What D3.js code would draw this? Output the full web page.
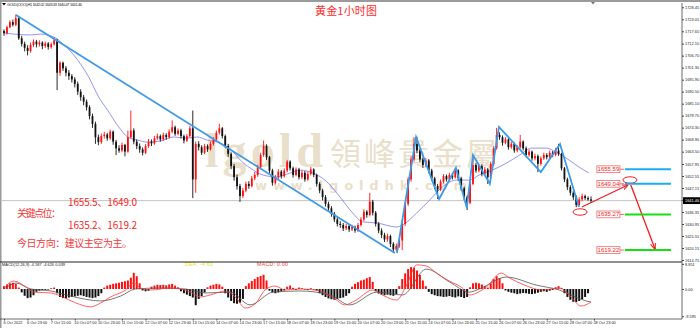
<!DOCTYPE html>
<html>
<head>
<meta charset="utf-8">
<script src="https://cdn.jsdelivr.net/npm/d3@7"></script>
<style>
  body { margin: 0; background: #fff; }
  svg { display: block; }
  .tiny text { font-family: 'Liberation Sans', Arial, sans-serif; font-size: 3.9px; fill: #222; }
</style>
</head>
<body>
<svg id="chart" width="700" height="328"></svg>
<script>
// ---- data ----
const firstOpen = 1717.8;
// hourly bars as [high, low, close]; open = previous close
const bars = [
  [1718.5,1715.6,1716.8],[1720.2,1716.2,1719.5],[1722.6,1719.0,1721.8],[1722.9,1719.8,1720.6],[1725.2,1720.0,1723.5],
  [1724.6,1713.8,1714.5],[1715.6,1710.8,1712.0],[1713.0,1708.6,1710.2],[1711.4,1706.8,1708.8],[1712.6,1708.0,1711.5],
  [1714.0,1710.6,1713.0],[1713.8,1710.4,1711.8],[1713.6,1710.8,1712.6],[1713.2,1709.6,1711.0],[1713.0,1710.2,1712.2],
  [1712.8,1709.4,1710.6],[1712.6,1709.8,1711.8],[1715.0,1711.2,1713.6],[1714.2,1691.2,1699.0],[1704.2,1697.6,1703.5],
  [1704.0,1699.8,1701.0],[1702.0,1697.4,1699.0],[1700.2,1695.8,1697.5],[1698.4,1694.6,1696.0],[1697.0,1692.4,1694.0],
  [1695.0,1689.0,1690.5],[1691.6,1686.4,1688.0],[1689.0,1684.4,1686.0],[1687.0,1682.0,1683.5],[1684.4,1678.0,1679.5],
  [1680.6,1674.2,1676.0],[1677.0,1667.0,1670.0],[1671.2,1666.4,1667.8],[1671.6,1667.0,1670.5],[1672.4,1669.4,1671.2],
  [1672.0,1668.4,1669.5],[1673.4,1668.8,1672.5],[1673.0,1666.6,1668.0],[1668.8,1662.0,1665.0],[1666.4,1663.0,1664.0],
  [1667.6,1663.2,1666.5],[1667.0,1661.4,1663.5],[1673.0,1663.0,1670.0],[1682.0,1669.4,1673.0],[1674.0,1666.8,1668.0],
  [1669.0,1664.6,1666.0],[1667.2,1663.0,1664.5],[1665.4,1661.8,1663.0],[1667.0,1662.4,1666.0],[1669.2,1665.2,1668.0],
  [1669.0,1666.0,1667.2],[1670.6,1666.6,1669.5],[1671.6,1668.8,1670.5],[1671.2,1668.0,1669.0],[1672.0,1668.4,1671.0],
  [1671.8,1668.8,1670.0],[1673.6,1669.4,1672.5],[1677.6,1671.8,1674.5],[1675.2,1670.6,1671.5],[1674.0,1670.8,1673.0],
  [1673.8,1669.4,1670.5],[1671.2,1667.2,1668.5],[1671.4,1667.8,1670.5],[1675.0,1669.8,1674.0],[1682.0,1642.6,1651.0],
  [1668.0,1645.0,1667.0],[1668.2,1664.0,1665.5],[1666.4,1662.0,1663.0],[1667.0,1662.4,1666.0],[1666.8,1663.4,1664.5],
  [1668.0,1664.0,1667.0],[1670.0,1666.2,1669.0],[1673.0,1668.2,1672.0],[1676.0,1671.2,1674.0],[1674.6,1669.4,1670.5],
  [1671.2,1665.0,1666.0],[1667.0,1661.2,1662.5],[1663.2,1655.6,1657.0],[1658.0,1650.4,1652.0],[1653.2,1646.4,1648.0],
  [1649.0,1640.9,1643.5],[1647.2,1642.6,1646.0],[1650.0,1645.2,1649.0],[1650.2,1646.8,1648.0],[1652.6,1647.4,1651.5],
  [1654.4,1650.6,1653.0],[1657.6,1652.2,1656.5],[1663.0,1655.8,1662.0],[1668.5,1661.2,1666.0],[1666.8,1659.8,1661.0],
  [1661.6,1653.8,1655.0],[1655.8,1648.2,1649.5],[1653.0,1648.8,1652.0],[1655.6,1651.2,1654.5],[1655.2,1651.4,1652.5],
  [1656.0,1651.8,1655.0],[1659.8,1654.2,1659.0],[1659.6,1655.0,1656.0],[1656.8,1651.8,1653.0],[1656.4,1652.4,1655.5],
  [1656.2,1651.0,1652.0],[1655.0,1651.2,1654.0],[1654.8,1650.0,1651.0],[1654.6,1650.4,1653.5],[1656.6,1652.8,1655.5],
  [1656.0,1652.0,1653.0],[1653.6,1647.8,1649.0],[1649.8,1644.8,1646.0],[1646.8,1641.6,1643.0],[1644.0,1638.8,1640.0],
  [1641.0,1636.6,1638.0],[1639.0,1634.2,1635.5],[1636.4,1631.8,1633.0],[1634.0,1629.8,1631.0],[1632.2,1629.2,1630.5],
  [1631.4,1627.8,1629.0],[1631.0,1628.2,1630.0],[1630.8,1627.4,1628.5],[1630.6,1627.8,1629.5],[1630.2,1627.0,1628.0],
  [1631.4,1627.4,1630.5],[1634.0,1629.8,1633.0],[1637.6,1632.2,1636.5],[1637.2,1633.8,1635.0],[1645.0,1634.4,1641.0],
  [1641.8,1634.8,1636.0],[1636.8,1629.8,1631.0],[1631.8,1626.8,1628.0],[1629.0,1624.6,1626.0],[1627.0,1622.8,1624.0],
  [1626.6,1623.0,1625.5],[1626.2,1620.6,1622.0],[1622.8,1617.9,1619.5],[1622.2,1618.6,1621.0],[1624.6,1620.2,1623.5],
  [1632.7,1619.2,1631.0],[1641.0,1630.0,1640.0],[1652.0,1639.0,1651.0],[1661.4,1650.0,1660.0],[1670.0,1659.0,1667.0],
  [1670.2,1662.8,1664.0],[1664.8,1658.8,1660.0],[1660.8,1656.2,1657.5],[1660.6,1656.6,1659.5],[1660.2,1653.8,1655.0],
  [1655.8,1650.2,1651.5],[1652.2,1646.6,1648.0],[1649.0,1642.2,1646.5],[1651.0,1645.8,1650.0],[1653.4,1649.2,1652.5],
  [1653.2,1650.0,1651.0],[1654.0,1650.2,1653.0],[1653.8,1651.0,1652.0],[1656.2,1651.4,1655.0],[1655.6,1650.4,1651.5],
  [1652.2,1645.8,1647.0],[1647.8,1641.6,1643.0],[1643.8,1637.2,1640.5],[1650.0,1639.8,1649.0],[1662.0,1648.4,1657.5],
  [1658.4,1654.0,1655.0],[1658.0,1654.2,1657.0],[1657.8,1652.4,1653.5],[1656.6,1652.8,1655.5],[1656.2,1649.0,1652.0],
  [1659.0,1651.4,1658.0],[1666.0,1657.2,1665.0],[1674.2,1664.4,1671.0],[1672.2,1668.8,1670.0],[1670.8,1666.2,1667.5],
  [1670.0,1666.8,1669.0],[1669.6,1664.4,1665.5],[1668.0,1664.8,1667.0],[1667.6,1663.0,1664.0],[1666.4,1663.2,1665.5],
  [1671.0,1664.8,1668.0],[1668.6,1664.0,1665.0],[1665.8,1661.0,1662.0],[1664.4,1661.2,1663.5],[1664.0,1659.4,1660.5],
  [1662.6,1659.6,1661.5],[1662.2,1654.3,1658.0],[1661.4,1657.2,1660.5],[1663.0,1659.8,1662.0],[1662.8,1660.0,1661.0],
  [1664.0,1660.4,1663.0],[1663.8,1661.0,1662.0],[1665.2,1661.4,1664.0],[1667.0,1661.6,1662.5],[1663.0,1655.0,1656.0],
  [1656.6,1649.8,1651.0],[1651.8,1646.2,1647.5],[1648.4,1643.8,1645.0],[1645.8,1641.8,1643.0],[1643.8,1638.5,1639.5],
  [1643.0,1639.0,1642.0],[1644.6,1641.2,1643.5],[1644.2,1641.8,1642.6],[1643.4,1641.4,1642.02],[1643.33,1640.47,1641.46]
];

// moving average as [bar, price]
const maLine = [
  [0,1716.9],[9,1716.0],[12.5,1716.4],[17.6,1714.6],[19.3,1712.8],[25,1704.7],[28.7,1697.1],[32.1,1688.1],
  [35.1,1682.2],[38.9,1674.6],[41.9,1670.1],[45.3,1668.7],[48.6,1667.8],[53,1668.3],[57.4,1670.1],[62.2,1669.6],
  [65.5,1670.1],[68.9,1668.7],[73.3,1667.4],[77.7,1663.3],[80.1,1659.7],[83.4,1656.2],[87.8,1653.0],[92.6,1652.1],
  [97,1653.9],[100.3,1655.2],[104.7,1653.9],[109.5,1649.9],[113.9,1643.1],[118.2,1635.9],[121.6,1631.9],[126.4,1631.4],
  [133.1,1629.6],[135.1,1630.5],[139.9,1635.9],[144.3,1641.7],[148.6,1647.6],[153.4,1650.7],[157.8,1650.7],[161.1,1653.0],
  [165.5,1655.2],[170.3,1658.3],[174.7,1661.9],[179,1665.1],[183.8,1665.1],[187.2,1663.3],[191.6,1659.7],[194.9,1656.6],
  [198.3,1653.9]
];

// MACD histogram per bar
const macdHist = [
  1.0,1.6,2.0,2.2,1.8,0.5,-1.2,-2.4,-3.2,-3.0,
  -2.2,-1.0,-0.6,-0.4,-0.3,-0.2,0.3,0.5,-1.5,-2.8,
  -3.2,-3.3,-3.0,-2.8,-2.6,-2.4,-2.2,-2.5,-2.8,-3.0,
  -3.2,-3.0,-2.5,-1.5,0.5,1.2,1.5,1.8,2.0,2.2,
  2.5,2.7,3.0,4.0,5.7,4.5,2.0,-0.5,-0.8,-0.6,
  0.8,1.2,1.5,1.4,1.5,1.3,1.6,1.8,1.2,0.6,
  -0.8,-1.5,-2.0,-2.5,-3.0,-5.7,-3.5,-2.5,-1.2,0.6,
  1.2,1.5,1.8,1.6,0.8,-1.5,-3.0,-4.2,-5.0,-5.2,
  -4.8,-3.5,1.0,2.0,2.8,3.5,4.2,4.6,5.0,3.0,
  -0.6,-1.2,-1.5,-1.2,-0.8,-0.5,0.8,1.2,0.4,-0.3,
  0.5,0.3,-0.2,-0.4,0.3,-0.2,-0.5,-1.5,-2.2,-2.8,
  -3.3,-3.6,-3.8,-3.5,-3.2,-3.0,-2.4,-1.5,0.8,1.8,
  2.4,3.0,3.3,3.8,4.2,2.5,-0.8,-1.6,-2.0,-2.2,
  -2.0,-2.2,-2.4,-1.8,1.0,3.5,5.5,7.0,7.7,7.5,
  6.5,5.0,3.0,1.0,-1.0,-1.8,-2.2,-2.5,-2.6,-2.8,
  -2.7,-2.5,-2.8,-3.0,-2.6,-2.8,-3.2,-2.8,0.6,2.0,
  2.2,2.0,1.6,1.0,0.5,2.0,3.5,4.5,3.8,2.0,
  -0.5,-1.0,-1.3,-1.5,-1.8,-1.6,-1.4,-1.5,-1.7,-1.8,
  -1.6,-1.3,-1.0,-0.8,-1.0,-0.6,-0.3,0.6,1.0,0.4,
  -1.5,-2.8,-3.8,-4.5,-4.6,-4.2,-3.6,-2.8,-1.5,0.04
];
// MACD lines as [bar, value]
const difLine = [
  [0,0.35],[3.4,2.8],[7.4,0.7],[10.1,-1.1],[15.9,-1.4],[19.3,-2.5],[24.3,-4.9],[29.4,-6.3],[32.8,-4.9],
  [36.1,-2.8],[41.2,-0.35],[43.9,2.1],[46.3,0.35],[49.7,-0.35],[56.4,0.35],[59.8,0],[63.2,-1.1],[66.6,-2.8],
  [69.9,-2.1],[75,-0.7],[78.4,-2.8],[81.8,-6.7],[85.1,-5.3],[88.5,-0.35],[91.9,1.05],[95.3,-0.35],[100.3,0],
  [107.1,-0.7],[112.2,-3.5],[115.5,-5.6],[118.9,-4.2],[125,-0.35],[129,-2.5],[133.1,-3.9],[136.5,1.4],
  [139.9,8.5],[143.2,8.1],[146.6,5.6],[151,2.8],[155.4,0.35],[157.8,-2.1],[163.5,0.7],[168.6,5.6],[171.3,3.9],
  [176.4,1.4],[182.4,-0.35],[188.2,0.35],[192.2,-2.8],[195.6,-6.0],[199,-4.6]
];
const deaLine = [
  [0,0],[4.1,2.1],[9.1,0],[15.9,-0.7],[22.6,-2.5],[32.8,-4.2],[39.5,-2.5],[44.6,0],[53,0.35],[61.5,0],
  [68.2,-1.4],[76.7,-1.1],[83.4,-5.6],[91.2,-1.1],[100.3,-0.7],[110.5,-2.1],[117.2,-5.6],[126.4,-1.1],
  [135.1,-2.1],[143.2,7.0],[151,2.5],[157.8,-1.1],[161.1,0],[170.3,4.2],[180.4,1.4],[188.2,-0.35],
  [197.3,-4.2],[199,-4.6]
];

// drawn analysis: trendline, zigzag, arrows, levels
const trendLine = [[4.07,1725.0],[132.5,1617.9]];
const zigzag = [
  [133.2,1617.9],[139.7,1670.1],[147.5,1642.2],[153.2,1656.2],[156.9,1638.2],[159,1662.0],
  [164.7,1649.0],[167.8,1674.6],[182,1654.3],[188.5,1666.9],[194.9,1638.6]
];
const arrows = [
  [[195.9,1638.6],[211.5,1648.5]],
  [[212.5,1648.5],[220.7,1619.7]]
];
const ellipses = [[195.3,1636.35],[212.2,1650.75]];
const levels = [
  { value: 1655.59, color: '#19aef0' },
  { value: 1649.04, color: '#19aef0' },
  { value: 1635.27, color: '#14e014' },
  { value: 1619.22, color: '#14e014' },
];

const priceTicks = [1728.45,1723.05,1717.65,1712.10,1706.70,1701.30,1695.90,1690.50,1685.10,1679.70,1674.30,
  1668.90,1663.50,1657.95,1652.55,1647.15,1641.75,1636.35,1630.95,1625.55,1620.15,1614.75];
const macdTicks = [8.851, 0, -9.595];
const timeLabels = ['6 Oct 2022','6 Oct 23:00','7 Oct 15:00','10 Oct 07:00','10 Oct 23:00','11 Oct 15:00',
  '12 Oct 07:00','12 Oct 23:00','13 Oct 15:00','14 Oct 07:00','14 Oct 23:00','17 Oct 15:00','18 Oct 07:00',
  '18 Oct 23:00','19 Oct 15:00','20 Oct 07:00','20 Oct 23:00','21 Oct 15:00','24 Oct 07:00','24 Oct 23:00',
  '25 Oct 15:00','26 Oct 07:00','26 Oct 23:00','27 Oct 15:00','28 Oct 07:00','28 Oct 23:00'];
const lastPrice = 1641.46;

// ---- layout ----
const plot = { left: 2, right: 682, top: 3, priceBottom: 262, macdBottom: 319 };
const svg = d3.select('#chart');

const x = d3.scaleLinear().domain([0, 199]).range([4, 591]);
const y = d3.scaleLinear().domain([1614.75, 1728.45]).range([260, 7.3]);
const ym = d3.scaleLinear().domain([-10.56, 9.5]).range([319, 262]);

const candles = bars.map((b, i) => ({
  i, o: i ? bars[i - 1][2] : firstOpen, h: b[0], l: b[1], c: b[2],
}));

// frame
svg.append('rect').attr('width', 700).attr('height', 328).attr('fill', '#fff');
svg.append('rect').attr('x', 0).attr('y', 0).attr('width', 700).attr('height', 2).attr('fill', '#9a9a9a');
svg.append('rect').attr('x', 0).attr('y', 0).attr('width', 1.5).attr('height', 328).attr('fill', '#9a9a9a');
svg.append('path').attr('d', 'M591,2 L595,2 L593,4.5 Z').attr('fill', '#777');

// watermark
const wm = svg.append('g').attr('fill', '#e9e0cb');
wm.append('text').attr('x', 205).attr('y', 167).attr('font-family', "'Liberation Serif', serif")
  .attr('font-weight', 'bold').attr('font-size', 48).attr('textLength', 118).text('lgold');
wm.append('text').attr('x', 330).attr('y', 165).attr('font-family', "'Noto Sans CJK TC', sans-serif")
  .attr('font-size', 31).attr('textLength', 167).text('領峰貴金屬');
wm.append('text').attr('x', 255).attr('y', 190).attr('font-family', "'DejaVu Sans', sans-serif")
  .attr('font-weight', 'bold').attr('font-size', 13).attr('textLength', 212).text('www.lgoldhk.com');

// current price line
svg.append('line').attr('x1', plot.left).attr('x2', plot.right)
  .attr('y1', y(lastPrice)).attr('y2', y(lastPrice)).attr('stroke', '#c4c4c4').attr('stroke-width', 1);

// moving average
svg.append('path').datum(maLine)
  .attr('d', d3.line().x(d => x(d[0])).y(d => y(d[1])).curve(d3.curveMonotoneX))
  .attr('fill', 'none').attr('stroke', '#7b78f0').attr('stroke-width', 0.8);

// candles
const cg = svg.append('g').attr('class', 'candles');
cg.selectAll('g').data(candles).join('g')
  .attr('fill', d => (d.c >= d.o ? '#ff1010' : '#111'))
  .attr('stroke', d => (d.c >= d.o ? '#ff1010' : '#111'))
  .call(g => g.append('line')
    .attr('x1', d => x(d.i)).attr('x2', d => x(d.i))
    .attr('y1', d => y(d.h)).attr('y2', d => y(d.l)).attr('stroke-width', 0.9))
  .call(g => g.append('rect')
    .attr('x', d => x(d.i) - 0.9).attr('width', 1.8)
    .attr('y', d => y(Math.max(d.o, d.c)))
    .attr('height', d => Math.max(0.8, Math.abs(y(d.o) - y(d.c))))
    .attr('stroke', 'none'));

// blue trendline + zigzag
const pl = d3.line().x(d => x(d[0])).y(d => y(d[1]));
svg.append('path').datum(trendLine).attr('d', pl)
  .attr('fill', 'none').attr('stroke', '#3d9ae6').attr('stroke-width', 1.8);
svg.append('path').datum(zigzag).attr('d', pl)
  .attr('fill', 'none').attr('stroke', '#3d9ae6').attr('stroke-width', 1.8).attr('stroke-linejoin', 'miter');

// red arrows & ellipses
svg.append('defs').append('marker').attr('id', 'arr')
  .attr('viewBox', '0 0 10 10').attr('refX', 9).attr('refY', 5)
  .attr('markerWidth', 5).attr('markerHeight', 5).attr('orient', 'auto')
  .append('path').attr('d', 'M0,1 L10,5 L0,9').attr('fill', 'none').attr('stroke', '#f21d1d').attr('stroke-width', 1.6);
svg.append('g').selectAll('path').data(arrows).join('path')
  .attr('d', pl).attr('fill', 'none').attr('stroke', '#f21d1d').attr('stroke-width', 1.3)
  .attr('marker-end', 'url(#arr)');
svg.append('g').selectAll('ellipse').data(ellipses).join('ellipse')
  .attr('cx', d => x(d[0])).attr('cy', d => y(d[1])).attr('rx', 7).attr('ry', 3.2)
  .attr('fill', 'none').attr('stroke', '#f21d1d').attr('stroke-width', 1);

// level lines with price boxes
const lv = svg.append('g').selectAll('g').data(levels).join('g');
lv.append('line').attr('x1', x(210.5)).attr('x2', x(226.1))
  .attr('y1', d => y(d.value)).attr('y2', d => y(d.value))
  .attr('stroke', d => d.color).attr('stroke-width', 2);
lv.append('line').attr('x1', x(208.8)).attr('x2', x(210.2))
  .attr('y1', d => y(d.value)).attr('y2', d => y(d.value))
  .attr('stroke', '#f04040').attr('stroke-width', 0.8);
lv.append('rect').attr('x', x(201)).attr('width', x(208.8) - x(201))
  .attr('y', d => y(d.value) - 3.4).attr('height', 6.8)
  .attr('fill', '#fff').attr('stroke', '#f36a6a').attr('stroke-width', 0.8);
lv.append('text').attr('x', (x(201) + x(208.8)) / 2).attr('y', d => y(d.value) + 2.1)
  .attr('text-anchor', 'middle').attr('font-family', "'Liberation Sans', sans-serif")
  .attr('font-size', 6).attr('fill', '#f01c1c').text(d => d.value.toFixed(2));

// title & notes
svg.append('text').attr('x', 315).attr('y', 15).attr('textLength', 62)
  .attr('font-family', "'Noto Sans CJK SC', sans-serif").attr('font-size', 11)
  .attr('fill', '#ff2a2a').text('黄金1小时图');
const notes = svg.append('g').attr('font-family', "'Noto Sans CJK SC', sans-serif")
  .attr('font-size', 10).attr('fill', '#f51f1f');
notes.append('text').attr('x', 68).attr('y', 206).attr('textLength', 69).text('1655.5、1649.0');
notes.append('text').attr('x', 17).attr('y', 217).attr('textLength', 44).attr('fill', '#f23a3a').text('关键点位：');
notes.append('text').attr('x', 68).attr('y', 229).attr('textLength', 69).text('1635.2、1619.2');
notes.append('text').attr('x', 17).attr('y', 247).attr('textLength', 115).attr('fill', '#f23a3a').text('今日方向：建议主空为主。');

// header line
svg.append('path').attr('d', 'M2,3 L6,3 L4,5.5 Z').attr('fill', '#000');
svg.append('g').attr('class', 'tiny').append('text').attr('x', 7).attr('y', 6)
  .attr('textLength', 75).text('GOLD(OOO),H1 1642.02 1643.33 1640.47 1641.46');

// ---- MACD panel ----
svg.append('g').selectAll('rect').data(macdHist).join('rect')
  .attr('x', (d, i) => x(i) - 1).attr('width', 2)
  .attr('y', d => ym(Math.max(0, d)))
  .attr('height', d => Math.abs(ym(d) - ym(0)))
  .attr('fill', d => (d >= 0 ? '#ff1010' : '#111'));
const ml = d3.line().x(d => x(d[0])).y(d => ym(d[1])).curve(d3.curveMonotoneX);
svg.append('path').datum(deaLine).attr('d', ml)
  .attr('fill', 'none').attr('stroke', '#555').attr('stroke-width', 0.8);
svg.append('path').datum(difLine).attr('d', ml)
  .attr('fill', 'none').attr('stroke', '#ff3a3a').attr('stroke-width', 0.8);

svg.append('g').attr('class', 'tiny').append('text').attr('x', 2).attr('y', 265.5)
  .attr('textLength', 63).text('MACD(12,26,9) -4.587 -4.626 0.039');
svg.append('text').attr('x', 185).attr('y', 266).attr('font-family', "'Liberation Sans', sans-serif")
  .attr('font-size', 5.2).attr('fill', '#e6e600').attr('textLength', 28).text('DEA:      -4.63');
svg.append('text').attr('x', 257).attr('y', 266).attr('font-family', "'Liberation Sans', sans-serif")
  .attr('font-size', 5.2).attr('fill', '#ff3a3a').attr('textLength', 31).text('MACD:      0.00');

// separators
svg.append('line').attr('x1', 0).attr('x2', plot.right).attr('y1', plot.priceBottom).attr('y2', plot.priceBottom)
  .attr('stroke', '#222').attr('stroke-width', 1);
svg.append('line').attr('x1', 0).attr('x2', plot.right).attr('y1', plot.macdBottom).attr('y2', plot.macdBottom)
  .attr('stroke', '#444').attr('stroke-width', 0.8);
svg.append('line').attr('x1', plot.right).attr('x2', plot.right).attr('y1', plot.top).attr('y2', plot.macdBottom)
  .attr('stroke', '#444').attr('stroke-width', 0.8);

// axes
svg.append('g').attr('class', 'tiny').attr('transform', `translate(${plot.right},0)`)
  .call(d3.axisRight(y).tickValues(priceTicks).tickFormat(d3.format('.2f')).tickSize(2).tickPadding(1))
  .call(g => g.select('.domain').remove())
  .call(g => g.selectAll('line').attr('stroke', '#444'));
svg.append('g').attr('class', 'tiny').attr('transform', `translate(${plot.right},0)`)
  .call(d3.axisRight(ym).tickValues(macdTicks).tickFormat(d => (d === 0 ? '0.00' : d.toFixed(3))).tickSize(2).tickPadding(1))
  .call(g => g.select('.domain').remove())
  .call(g => g.selectAll('line').attr('stroke', '#444'));
svg.append('g').attr('class', 'tiny').attr('transform', `translate(0,${plot.macdBottom})`)
  .call(d3.axisBottom(x).tickValues(timeLabels.map((d, i) => i * 8))
    .tickFormat((d, i) => timeLabels[i]).tickSize(1.5).tickPadding(1))
  .call(g => g.select('.domain').remove())
  .call(g => g.selectAll('line').attr('stroke', '#444'))
  .call(g => g.selectAll('text').attr('text-anchor', 'start').attr('dx', -1));

// last price box on axis
const lp = svg.append('g').attr('transform', `translate(${plot.right + 1},${y(lastPrice)})`);
lp.append('rect').attr('x', 0).attr('y', -3.4).attr('width', 17).attr('height', 6.8).attr('fill', '#000');
lp.append('text').attr('x', 2).attr('y', 1.4).attr('font-family', "'Liberation Sans', sans-serif")
  .attr('font-size', 3.9).attr('fill', '#fff').text(lastPrice.toFixed(2));
</script>
</body>
</html>
